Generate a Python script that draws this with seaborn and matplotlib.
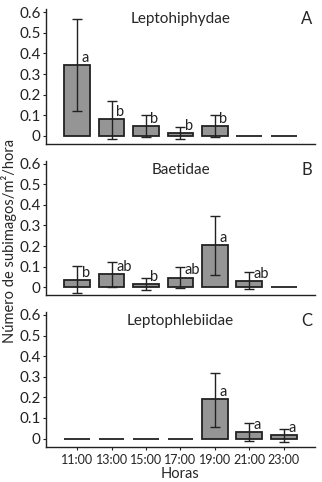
import seaborn as sns
import matplotlib.pyplot as plt
import numpy as np
import pandas as pd

horas = ["11:00", "13:00", "15:00", "17:00", "19:00", "21:00", "23:00"]
familias = ["Leptohiphydae", "Baetidae", "Leptophlebiidae"]
paneles = ["A", "B", "C"]

# mean and error bar ends
lepto_mean = [0.345, 0.080, 0.048, 0.013, 0.048, 0.0, 0.0]
lepto_lo = [0.120, -0.015, -0.005, -0.015, -0.005, 0.0, 0.0]
lepto_hi = [0.565, 0.170, 0.100, 0.045, 0.100, 0.0, 0.0]
lepto_let = ["a", "b", "b", "b", "b", "", ""]

baet_mean = [0.035, 0.063, 0.015, 0.047, 0.205, 0.030, 0.0]
baet_lo = [-0.030, 0.0, -0.015, -0.005, 0.060, -0.010, 0.0]
baet_hi = [0.105, 0.122, 0.045, 0.100, 0.345, 0.075, 0.0]
baet_let = ["b", "ab", "b", "ab", "a", "ab", ""]

phleb_mean = [0.0, 0.0, 0.0, 0.0, 0.190, 0.033, 0.015]
phleb_lo = [0.0, 0.0, 0.0, 0.0, 0.055, -0.010, -0.015]
phleb_hi = [0.0, 0.0, 0.0, 0.0, 0.320, 0.075, 0.047]
phleb_let = ["", "", "", "", "a", "a", "a"]

means = [lepto_mean, baet_mean, phleb_mean]
lows = [lepto_lo, baet_lo, phleb_lo]
highs = [lepto_hi, baet_hi, phleb_hi]
letras = [lepto_let, baet_let, phleb_let]

sns.set_theme(style="ticks")
plt.rcParams['font.family'] = ['Lato', 'DejaVu Sans']

fig = plt.figure(figsize=(3.22, 4.82), dpi=100)
tops = [0.981, 0.667, 0.353]
h = 0.28

for i in range(3):
    ax = fig.add_axes([0.143, tops[i] - h, 0.835, h])
    df = pd.DataFrame({"hora": horas, "valor": means[i]})
    sns.barplot(data=df, x="hora", y="valor", color="#959595", saturation=1,
                edgecolor="#222222", linewidth=1.3, width=0.75, errorbar=None, ax=ax)
    m = np.array(means[i])
    lo = np.array(lows[i])
    hi = np.array(highs[i])
    has_err = hi > 0
    xs = np.arange(len(horas))
    ax.errorbar(xs[has_err], m[has_err], yerr=[m[has_err] - lo[has_err], hi[has_err] - m[has_err]],
                fmt="none", ecolor="#222222", elinewidth=1.0, capsize=3.5, capthick=1.0)
    for j, t in enumerate(letras[i]):
        if t:
            ax.text(j + 0.13, m[j] + 0.035, t, fontsize=10.5, ha="left", va="center", color="#222222")
    ax.set_ylim(-0.04, 0.615)
    ax.set_xlim(-0.9, 6.9)
    ax.set_yticks([0, 0.1, 0.2, 0.3, 0.4, 0.5, 0.6])
    ax.set_yticklabels(["0", "0.1", "0.2", "0.3", "0.4", "0.5", "0.6"], fontsize=11)
    ax.set_ylabel("")
    ax.set_xlabel("")
    ax.text(0.5, 0.93, familias[i], transform=ax.transAxes, ha="center", va="center", fontsize=11)
    ax.text(0.99, 0.93, paneles[i], transform=ax.transAxes, ha="right", va="center", fontsize=12)
    ax.tick_params(axis="y", length=2, width=0.8, pad=2, colors="#222222")
    ax.tick_params(axis="x", length=2, width=0.8, pad=3, labelsize=9, colors="#222222")
    for s in ["left", "bottom"]:
        ax.spines[s].set_color("#222222")
        ax.spines[s].set_linewidth(1.0)
    sns.despine(ax=ax)
    if i < 2:
        ax.tick_params(axis="x", length=0, labelbottom=False)
    else:
        ax.set_xlabel("Horas", fontsize=10.5, labelpad=1)

fig.text(0.028, 0.5, "Número de subimagos/m²/hora", rotation=90, ha="center", va="center", fontsize=10.5)

plt.savefig("out.png", dpi=100)
